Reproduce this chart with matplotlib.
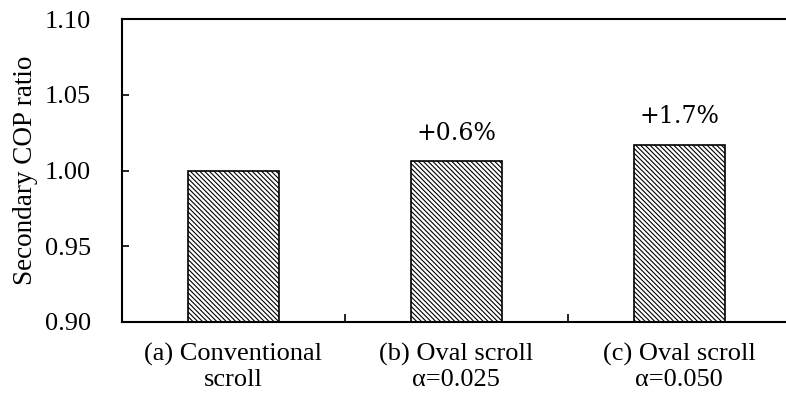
import matplotlib.pyplot as plt
import numpy as np

plt.rcParams['font.family'] = ['Liberation Serif', 'DejaVu Serif']
plt.rcParams['hatch.linewidth'] = 0.8

categories = ['(a) Conventional\nscroll', '(b) Oval scroll\n\u03b1=0.025', '(c) Oval scroll\n\u03b1=0.050']
cop_ratio = [1.000, 1.006, 1.017]
gain_labels = ['', '+0.6%', '+1.7%']
yticks = [0.90, 0.95, 1.00, 1.05, 1.10]

fig = plt.figure(figsize=(7.86, 3.97), dpi=100)
ax = fig.add_axes([0.155, 0.189, 0.851, 0.763])

x = np.arange(len(categories))
bars = ax.bar(x, cop_ratio, width=0.41, color='white', edgecolor='black',
              linewidth=1.2, hatch='\\' * 7, zorder=2)

for xi, val, lab in zip(x, cop_ratio, gain_labels):
    if lab:
        ax.annotate(lab, (xi, val), xytext=(0, 12), textcoords='offset points',
                    ha='center', va='bottom', fontsize=17, family='DejaVu Serif')

ax.set_xlim(-0.5, 2.5)
ax.set_ylim(0.90, 1.10)
ax.set_yticks(yticks, [f'{t:.2f}' for t in yticks])
ax.set_xticks(x, categories)
ax.set_xticks([0.5, 1.5], minor=True)
ax.tick_params(axis='x', which='major', length=0, pad=15, labelsize=19)
ax.tick_params(axis='x', which='minor', direction='in', length=6, width=1.2)
ax.tick_params(axis='y', direction='in', length=5, width=1.2, labelsize=19, pad=22)
ax.set_ylabel('Secondary COP ratio', fontsize=19.5, labelpad=5)

for s in ['left', 'top', 'bottom']:
    ax.spines[s].set_linewidth(1.5)
ax.spines['right'].set_visible(False)

fig.savefig('out.png', dpi=100)
